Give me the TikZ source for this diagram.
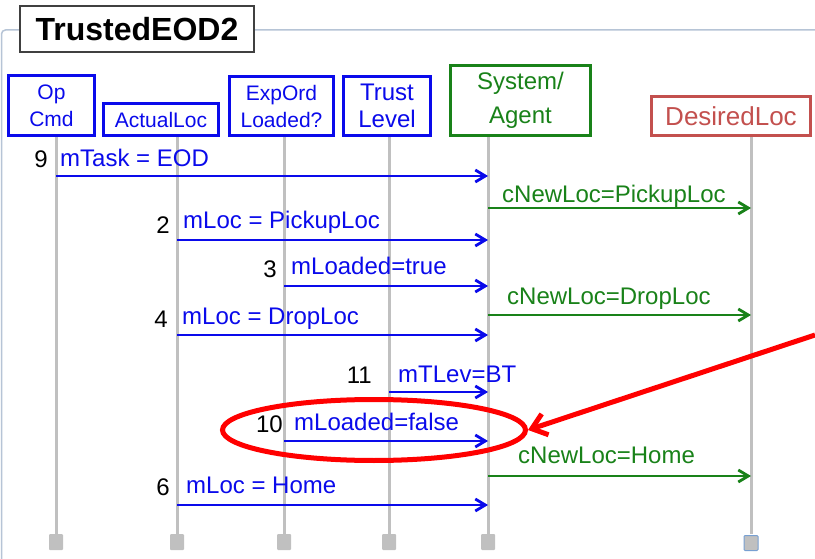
\documentclass[tikz,border=0pt]{standalone}
\usepackage{fontspec}
\setmainfont{Liberation Sans}
\usetikzlibrary{arrows.meta,shapes.geometric}

\definecolor{msgblue}{RGB}{10,10,235}
\definecolor{agentgreen}{RGB}{25,130,25}
\definecolor{desred}{RGB}{195,80,78}
\definecolor{lifegray}{RGB}{192,192,192}
\definecolor{framegray}{RGB}{182,196,214}
\definecolor{endblue}{RGB}{120,160,210}

% one message: name, start x, end x, y, style
\newcommand\seqmsg[5]{%
  \coordinate (#1-a) at (#2,#4);
  \coordinate (#1-b) at (#3,#4);
  \draw[#5] (#1-a) -- (#1-b);}

% one lifeline: name, x
\newcommand\lifeline[2]{%
  \coordinate (#1-top) at (#2,137);
  \coordinate (#1-bot) at (#2,534);
  \draw[lifeln] (#1-top) -- (#1-bot);}

\begin{document}
\begin{tikzpicture}[x=1pt,y=-1pt,
  hdr/.style={draw=msgblue, text=msgblue, line width=3pt, align=center,
    inner sep=0pt, font=\fontsize{21}{27}\selectfont},
  lifeln/.style={draw=lifegray, line width=3pt},
  endbox/.style={fill=lifegray, minimum width=14pt, minimum height=16pt,
    inner sep=0pt, rounded corners=1pt},
  bluemsg/.style={draw=msgblue, line width=2.8pt,
    -{Straight Barb[length=10pt,width=12pt]}},
  greenmsg/.style={draw=agentgreen, line width=2.8pt,
    -{Straight Barb[length=10pt,width=12pt]}},
  bluelbl/.style={text=msgblue, anchor=base west, inner sep=0pt,
    font=\fontsize{24}{28}\selectfont},
  greenlbl/.style={text=agentgreen, anchor=base west, inner sep=0pt,
    font=\fontsize{24}{28}\selectfont},
  numlbl/.style={text=black, anchor=base east, inner sep=0pt,
    font=\fontsize{24}{28}\selectfont},
]
\useasboundingbox (0,0) rectangle (815,559);
\fill[white] (0,0) rectangle (815,559);

% frame of the page
\coordinate (frame-bl) at (1.5,559);
\coordinate (frame-tr) at (815,30);
\draw[framegray, line width=1.5pt, rounded corners=4pt] (frame-bl) |- (frame-tr);

% title
\node[draw=black!75, fill=white, line width=1.2pt, minimum width=234pt,
  minimum height=46pt, inner sep=0pt,
  font=\fontsize{32}{36}\selectfont\bfseries] (title) at (137,29) {TrustedEOD2};

% lifelines
\lifeline{op}{56}
\lifeline{act}{177}
\lifeline{exp}{284}
\lifeline{tru}{389}
\lifeline{sys}{488}
\lifeline{des}{751}

\node[endbox] (op-end) at (56,542) {};
\node[endbox] (act-end) at (177,542) {};
\node[endbox] (exp-end) at (284,542) {};
\node[endbox] (tru-end) at (389,542) {};
\node[endbox] (sys-end) at (488,542) {};
\node[endbox, draw=endblue, line width=1pt, minimum width=14pt, minimum height=15pt] (des-end) at (751,543) {};

% header boxes
\node[hdr, fill=white, minimum width=86pt, minimum height=60pt] (op) at (51.5,105.5) {Op\\Cmd};
\node[hdr, fill=white, minimum width=115pt, minimum height=32pt] (act) at (161,119.5) {ActualLoc};
\node[hdr, fill=white, minimum width=104pt, minimum height=59pt] (exp) at (281.5,106) {ExpOrd\\Loaded?};
\node[hdr, fill=white, minimum width=87pt, minimum height=59pt,
  font=\fontsize{24}{27}\selectfont] (tru) at (387,106) {Trust\\Level};
\node[hdr, fill=white, draw=agentgreen, text=agentgreen, minimum width=140pt, minimum height=70pt,
  font=\fontsize{24}{34}\selectfont] (sys) at (520.5,100.5) {System/\\Agent};
\node[hdr, fill=white, draw=desred, text=desred, minimum width=159pt, minimum height=39pt,
  font=\fontsize{26}{30}\selectfont] (des) at (731,116) {DesiredLoc};

% messages
\node[numlbl] (n9) at (48,168) {9};
\node[bluelbl] (l9) at (60,167) {mTask = EOD};
\seqmsg{m9}{56}{488}{176}{bluemsg}

\node[greenlbl] (lc1) at (502,203) {cNewLoc=PickupLoc};
\seqmsg{c1}{488}{751}{208}{greenmsg}

\node[numlbl] (n2) at (170,234) {2};
\node[bluelbl] (l2) at (183,229) {mLoc = PickupLoc};
\seqmsg{m2}{177}{488}{240}{bluemsg}

\node[numlbl] (n3) at (277,278) {3};
\node[bluelbl] (l3) at (291,275) {mLoaded=true};
\seqmsg{m3}{284}{488}{286}{bluemsg}

\node[greenlbl] (lc2) at (507,305) {cNewLoc=DropLoc};
\seqmsg{c2}{488}{751}{315}{greenmsg}

\node[numlbl] (n4) at (168,327) {4};
\node[bluelbl] (l4) at (182,324) {mLoc = DropLoc};
\seqmsg{m4}{177}{488}{335}{bluemsg}

\node[numlbl] (n11) at (372,383) {11};
\node[bluelbl] (l11) at (398,382) {mTLev=BT};
\seqmsg{m11}{389}{488}{392}{bluemsg}

\node[numlbl] (n10) at (283,432) {10};
\node[bluelbl] (l10) at (294,430) {mLoaded=false};
\seqmsg{m10}{284}{488}{441}{bluemsg}

\node[greenlbl] (lc3) at (518,463) {cNewLoc=Home};
\seqmsg{c3}{488}{751}{476}{greenmsg}

\node[numlbl] (n6) at (170,495) {6};
\node[bluelbl] (l6) at (186,493) {mLoc = Home};
\seqmsg{m6}{177}{488}{505}{bluemsg}

% highlight ring and pointer
\node[ellipse, draw=red, line width=5pt, minimum width=303pt, minimum height=61pt,
  inner sep=0pt] (ring) at (374,430) {};
\coordinate (pointer) at (815,335);
\draw[red, line width=5pt, -{Straight Barb[length=14pt,width=22pt]}] (pointer) -- (ring.east);
\end{tikzpicture}
\end{document}
